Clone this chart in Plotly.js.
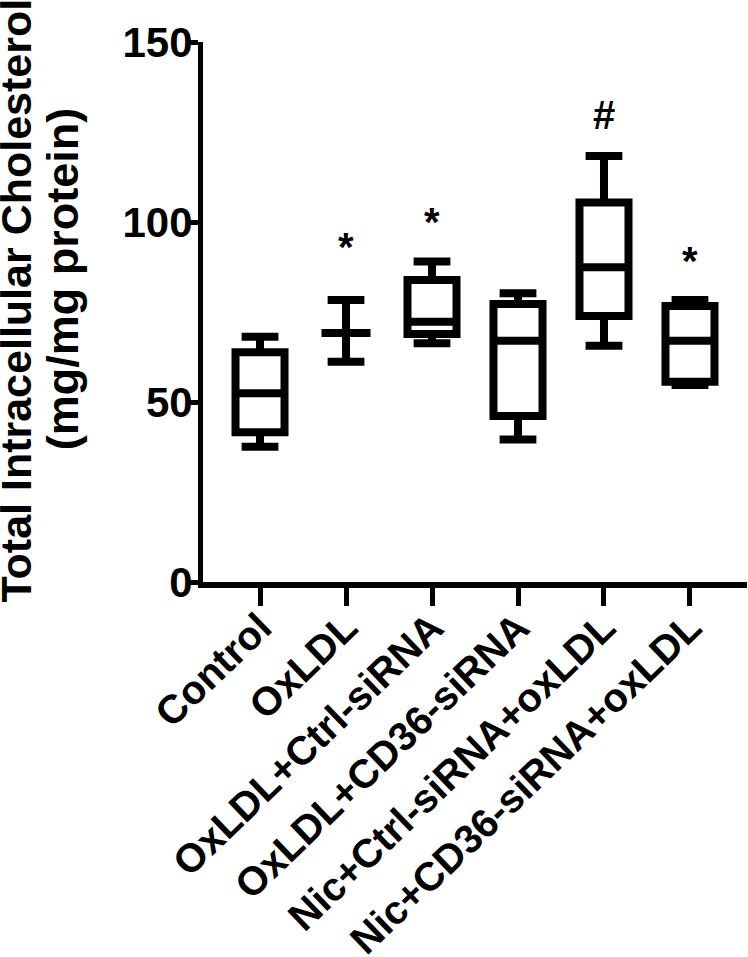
<!DOCTYPE html>
<html>
<head>
<meta charset="utf-8">
<script src="https://cdn.plot.ly/plotly-3.0.1.min.js"></script>
<style>
   html, body { margin: 0; padding: 0; background: #fff; }
   #div_plot { width: 748px; height: 957px; }
</style>
</head>
<body>
<div id="div_plot"></div>
<script>
// groups and box summary values (mg/mg protein)
var groups = ["Control", "OxLDL", "OxLDL+Ctrl-siRNA", "OxLDL+CD36-siRNA", "Nic+Ctrl-siRNA+oxLDL", "Nic+CD36-siRNA+oxLDL"];
var lower_whisker = [37.6, 61.2, 66.3, 39.6, 65.6, 54.7];
var q1_vals       = [41.6, 69.2, 68.9, 46.1, 73.9, 55.6];
var median_vals   = [52.4, 69.2, 72.3, 67.0, 87.4, 67.0];
var q3_vals       = [63.8, 69.2, 83.9, 77.2, 105.4, 76.7];
var upper_whisker = [68.1, 78.3, 89.0, 80.2, 118.3, 78.3];

// significance marks above the boxes
var sig_groups = ["OxLDL", "OxLDL+Ctrl-siRNA", "Nic+Ctrl-siRNA+oxLDL", "Nic+CD36-siRNA+oxLDL"];
var sig_text   = ["*", "*", "#", "*"];
var sig_y      = [95.5, 102.6, 129.7, 91.7];

var y_ticks = [0, 50, 100, 150];

function plot_graph(){
   var font_family = "Liberation Sans, Arial, sans-serif";

   var trace = {
      type: 'box',
      x: groups,
      q1: q1_vals,
      median: median_vals,
      q3: q3_vals,
      lowerfence: lower_whisker,
      upperfence: upper_whisker,
      width: 0.57,
      whiskerwidth: 0.75,
      fillcolor: 'rgba(255,255,255,0)',
      line: { color: '#000', width: 8 },
      boxpoints: false,
      hoverinfo: 'skip',
      showlegend: false
   };

   var annotations = [];
   sig_groups.forEach((g, i) => {
      annotations.push({
         x: g,
         y: sig_y[i],
         xref: 'x',
         yref: 'y',
         text: sig_text[i],
         showarrow: false,
         yanchor: 'middle',
         // asterisk sits high in its line box, '#' does not
         yshift: sig_text[i] === '*' ? -9 : 0,
         font: { family: font_family, size: 40, color: '#000', weight: 'bold' }
      });
   });

   // y-axis title as two lines
   annotations.push({
      xref: 'paper', yref: 'paper',
      x: -0.343, y: 0.522,
      xanchor: 'center', yanchor: 'middle',
      textangle: -90,
      text: "Total Intracellular Cholesterol",
      showarrow: false,
      font: { family: font_family, size: 43, color: '#000', weight: 'bold' }
   });
   annotations.push({
      xref: 'paper', yref: 'paper',
      x: -0.259, y: 0.561,
      xanchor: 'center', yanchor: 'middle',
      textangle: -90,
      text: "(mg/mg protein)",
      showarrow: false,
      font: { family: font_family, size: 45, color: '#000', weight: 'bold' }
   });

   var layout = {
      width: 748,
      height: 957,
      margin: { l: 203, r: 1, t: 42, b: 375 },
      paper_bgcolor: '#fff',
      plot_bgcolor: '#fff',
      showlegend: false,
      xaxis: {
         type: 'category',
         range: [-0.663, 5.663],
         showline: true,
         linecolor: '#000',
         linewidth: 6,
         ticks: 'outside',
         ticklen: 18,
         tickwidth: 5,
         tickcolor: '#000',
         tickangle: -44,
         ticklabelstandoff: -18,
         showgrid: false,
         zeroline: false,
         tickfont: { family: font_family, size: 40, color: '#000', weight: 'bold' }
      },
      yaxis: {
         range: [0, 150],
         tickvals: y_ticks,
         showline: true,
         linecolor: '#000',
         linewidth: 5,
         ticks: 'outside',
         ticklen: 11,
         tickwidth: 5,
         tickcolor: '#000',
         ticklabelstandoff: -14,
         showgrid: false,
         zeroline: false,
         tickfont: { family: font_family, size: 42, color: '#000', weight: 'bold' }
      },
      annotations: annotations
   };

   var config = {
      responsive: false,
      displayModeBar: false,
      staticPlot: true
   };

   Plotly.newPlot('div_plot', [trace], layout, config);
}

plot_graph();
</script>
</body>
</html>
